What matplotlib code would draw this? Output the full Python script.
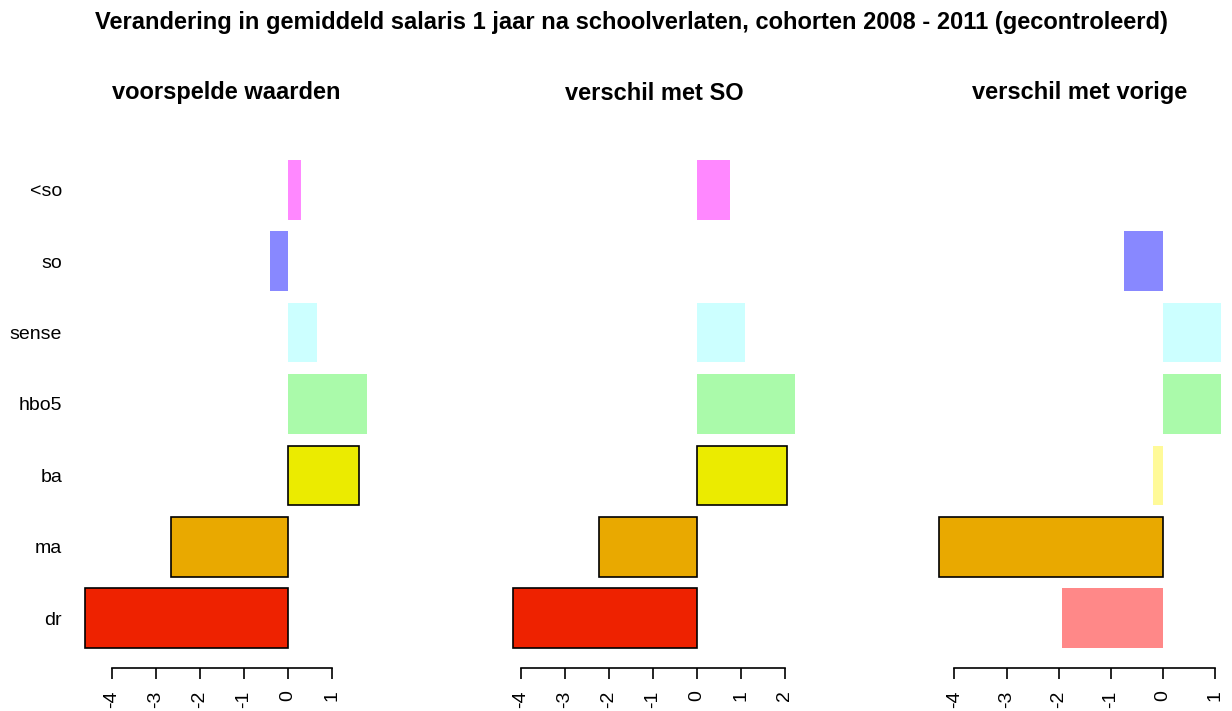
import numpy as np
import matplotlib.pyplot as plt

plt.rcParams['font.family'] = ['Liberation Sans', 'DejaVu Sans']

# categories, bottom to top
categories = ['dr', 'ma', 'ba', 'hbo5', 'sense', 'so', '<so']

# bar colours: strong for significant, pale for not significant
strong_colors = ['#ee2200', '#e9a900', '#ebeb00', '#33dd33', '#66ffff', '#2222ff', '#ff22ff']
pale_colors = ['#ff8888', '#f2cf80', '#fffa99', '#aafaaa', '#ccffff', '#8888ff', '#ff88ff']

panel_titles = ['voorspelde waarden', 'verschil met SO', 'verschil met vorige']

# values per panel
predicted = [-4.61, -2.67, 1.61, 1.79, 0.67, -0.42, 0.30]
diff_so = [-4.17, -2.22, 2.05, 2.23, 1.10, 0.0, 0.75]
diff_prev = [-1.94, -4.29, -0.19, 1.11, 1.11, -0.75, 0.0]

# significance per panel
sig_predicted = [True, True, True, False, False, False, False]
sig_diff_so = [True, True, True, False, False, False, False]
sig_diff_prev = [False, True, False, False, False, False, False]

panels = [(predicted, sig_predicted), (diff_so, sig_diff_so), (diff_prev, sig_diff_prev)]
panel_left_px = [74, 502, 928]

W, H = 1232, 711
fig = plt.figure(figsize=(W / 100, H / 100), dpi=100)

fig.text(631 / W, 1 - 22 / H,
         'Verandering in gemiddeld salaris 1 jaar na schoolverlaten, cohorten 2008 - 2011 (gecontroleerd)',
         ha='center', va='center', fontsize=17, fontweight='bold')

# R barplot layout: width 1, space 0.2
ypos = np.arange(1, len(categories) + 1) * 1.2 - 0.5
y_lo, y_hi = 0.2, len(categories) * 1.2
y_pad = 0.04 * (y_hi - y_lo)

top_px, bottom_px = 140.5, 667.5
width_px = 304

for i, (vals, sig) in enumerate(panels):
    ax = fig.add_axes([panel_left_px[i] / W, 1 - bottom_px / H,
                       width_px / W, (bottom_px - top_px) / H])
    lo = min(min(vals), 0)
    hi = max(max(vals), 0)
    pad = 0.04 * (hi - lo)
    ax.set_xlim(lo - pad, hi + pad)
    ax.set_ylim(y_lo - y_pad, y_hi + y_pad)

    for k, v in enumerate(vals):
        if sig[k]:
            ax.barh(ypos[k], v, height=1, color=strong_colors[k],
                    edgecolor='black', linewidth=1.2)
        else:
            ax.barh(ypos[k], v, height=1, color=pale_colors[k], linewidth=0)

    for s in ['top', 'right', 'left']:
        ax.spines[s].set_visible(False)
    ticks = np.arange(np.ceil(lo), np.floor(hi) + 1)
    ax.set_xticks(ticks)
    ax.set_xticklabels([str(int(t)) for t in ticks], rotation=90, fontsize=14)
    ax.spines['bottom'].set_bounds(ticks[0], ticks[-1])
    ax.spines['bottom'].set_linewidth(1.2)
    ax.tick_params(axis='x', length=8, width=1.2, pad=8.5)

    if i == 0:
        ax.set_yticks(ypos)
        ax.set_yticklabels(categories, fontsize=14)
        ax.tick_params(axis='y', length=0, pad=8.5)
    else:
        ax.set_yticks([])

    fig.text((panel_left_px[i] + width_px / 2) / W, 1 - 93 / H, panel_titles[i],
             ha='center', va='center', fontsize=17, fontweight='bold')

fig.savefig('out.png', dpi=100)
